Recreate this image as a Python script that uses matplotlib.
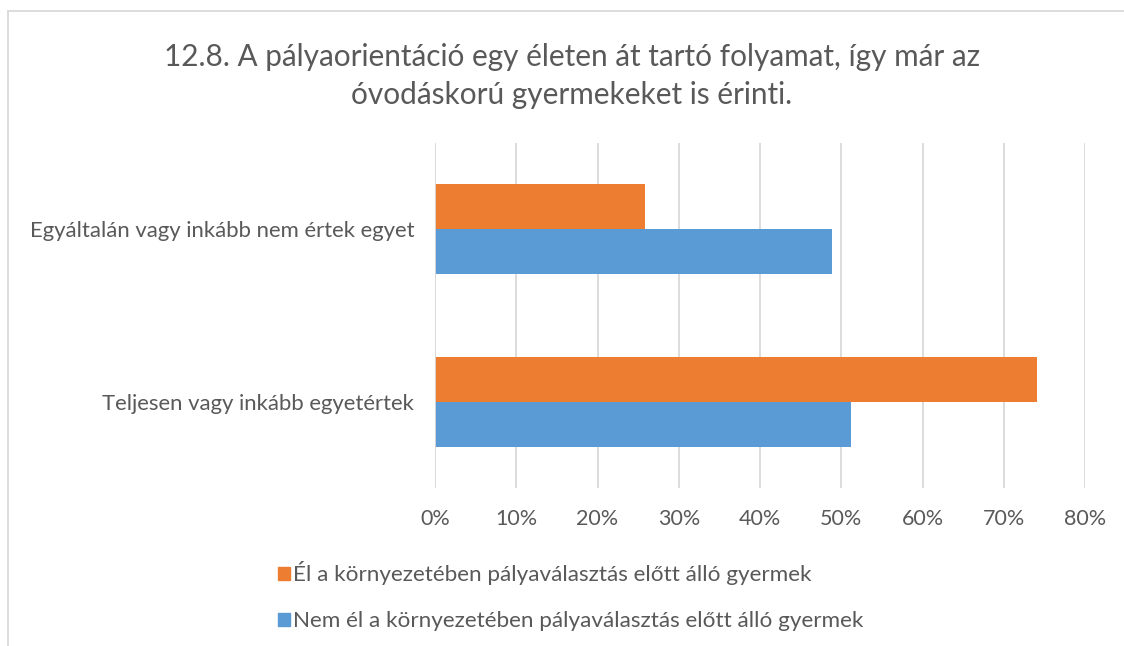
import numpy as np
import matplotlib.pyplot as plt
from matplotlib.lines import Line2D
from matplotlib.patches import Patch

# %%
title = "12.8. A pályaorientáció egy életen át tartó folyamat, így már az\nóvodáskorú gyermekeket is érinti."
categories = ["Teljesen vagy inkább egyetértek", "Egyáltalán vagy inkább nem értek egyet"]
series_names = ["Él a környezetében pályaválasztás előtt álló gyermek",
                "Nem él a környezetében pályaválasztás előtt álló gyermek"]
el = [74.1, 25.9]        # orange
nem_el = [51.2, 48.8]    # blue
xticks = [0, 10, 20, 30, 40, 50, 60, 70, 80]

orange = "#ED7D31"
blue = "#5B9BD5"
txt = "#595959"
grid = "#D9D9D9"

plt.rcParams['font.family'] = ['Lato', 'DejaVu Sans']

# %%
fig = plt.figure(figsize=(11.24, 6.46), dpi=100)
ax = fig.add_axes([435 / 1124, 1 - 488 / 646, 650 / 1124, 345 / 646])

y = np.arange(len(categories))
h = 0.26
ax.barh(y + h / 2, el, height=h, color=orange, zorder=3)
ax.barh(y - h / 2, nem_el, height=h, color=blue, zorder=3)

ax.set_xlim(0, 80)
ax.set_ylim(-0.5, 1.5)
ax.set_xticks(xticks)
ax.set_xticklabels([f"{v}%" for v in xticks], color=txt, fontsize=15.5)
ax.set_yticks(y)
ax.set_yticklabels(categories, color=txt, fontsize=15.9)
ax.tick_params(axis='both', length=0)
ax.tick_params(axis='x', pad=15)
ax.tick_params(axis='y', pad=15)
ax.grid(axis='x', color=grid, linewidth=1.3, zorder=0)
for s in ax.spines.values():
    s.set_visible(False)
ax.axvline(0, color=grid, linewidth=1.3, zorder=4)

fig.text(572 / 1124, 1 - 76 / 646, title, ha='center', va='center',
         fontsize=21.4, color=txt, linespacing=1.4)

handles = [Patch(color=orange), Patch(color=blue)]
fig.legend(handles, series_names, loc='upper left', bbox_to_anchor=(258 / 1124, 1 - 541 / 646),
           frameon=False, fontsize=16.2, labelcolor=txt, handlelength=0.5, handleheight=0.5,
           handletextpad=0.15, labelspacing=1.15)

# chart frame (cut off on right and bottom)
fig.add_artist(Line2D([8 / 1124, 1], [1 - 11 / 646] * 2, transform=fig.transFigure, color=grid, linewidth=1.3))
fig.add_artist(Line2D([8 / 1124] * 2, [0, 1 - 11 / 646], transform=fig.transFigure, color=grid, linewidth=1.3))

fig.savefig("out.png", dpi=100)
